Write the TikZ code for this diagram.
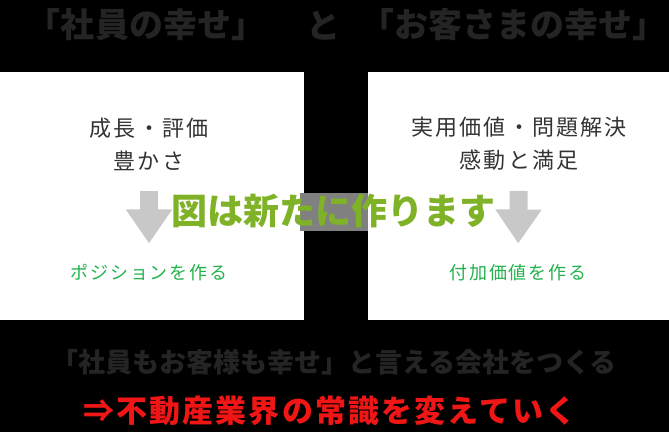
\documentclass[tikz,border=0pt]{standalone}
\usepackage{fontspec}
\newfontfamily\jp{Noto Sans CJK JP}
\usetikzlibrary{arrows.meta, positioning}
\definecolor{inkdark}{RGB}{36,36,36}
\definecolor{textgray}{RGB}{51,51,51}
\definecolor{arrowgray}{RGB}{200,200,200}
\definecolor{goalgreen}{RGB}{34,178,76}
\definecolor{markgreen}{RGB}{128,178,40}
\definecolor{markgray}{RGB}{128,128,128}
\definecolor{sloganred}{RGB}{240,22,22}

\begin{document}
\begin{tikzpicture}[
    x=1pt, y=-1pt,
    panel/.style={rectangle, fill=white, inner sep=0pt, minimum height=248pt, anchor=north west},
    title/.style={text=inkdark, font=\jp\bfseries\fontsize{34}{38}\selectfont, inner sep=0pt},
    valtext/.style={text=textgray, align=center, inner sep=0pt, font=\jp\fontsize{22}{33}\selectfont\addfontfeature{LetterSpace=10}},
    goaltext/.style={text=goalgreen, inner sep=0pt, font=\jp\fontsize{18}{20}\selectfont\addfontfeature{LetterSpace=10}},
    downarrow/.style={-{Triangle[width=44pt, length=34pt]}, line width=18pt, draw=arrowgray},
    notetext/.style={text=markgreen, inner sep=0pt, font=\jp\bfseries\fontsize{36}{40}\selectfont},
    motto/.style={text=inkdark, inner sep=0pt, font=\jp\bfseries\fontsize{27}{30}\selectfont},
    slogan/.style={text=sloganred, inner sep=0pt, font=\jp\bfseries\fontsize{31}{34}\selectfont\addfontfeature{LetterSpace=7}}
]
\fill[black] (0,0) rectangle (669,432);
\useasboundingbox (0,0) rectangle (669,432);

% Titles
\node[title] (ttl_staff) at (146,25) {「社員の幸せ」};
\node[title] (ttl_and) at (323,26) {と};
\node[title] (ttl_client) at (513,25) {「お客さまの幸せ」};

% Panels
\node[panel, minimum width=304pt] (pnl_staff) at (0,72) {};
\node[panel, minimum width=301pt] (pnl_client) at (368,72) {};

\node[valtext] (val_staff) at (149,144) {成長・評価\\豊かさ};
\node[valtext] (val_client) at (519,144) {実用価値・問題解決\\感動と満足};
\node[goaltext] (goal_staff) at (149,273) {ポジションを作る};
\node[goaltext] (goal_client) at (518,273) {付加価値を作る};

\draw[downarrow, shorten <=20pt, shorten >=21pt] (val_staff) -- (goal_staff);
\draw[downarrow, shorten <=20pt, shorten >=21pt] (val_client) -- (goal_client);

% Overlay note
\node[fill=markgray, minimum width=68pt, minimum height=38pt, inner sep=0pt] (note_bg) at (334,212) {};
\node[notetext] (note) at (333,211) {図は新たに作ります};

% Closing lines
\node[motto] (motto) at (334,362) {「社員もお客様も幸せ」と言える会社をつくる};
\node[slogan] (slogan) at (330,411) {⇒不動産業界の常識を変えていく};
\end{tikzpicture}
\end{document}
